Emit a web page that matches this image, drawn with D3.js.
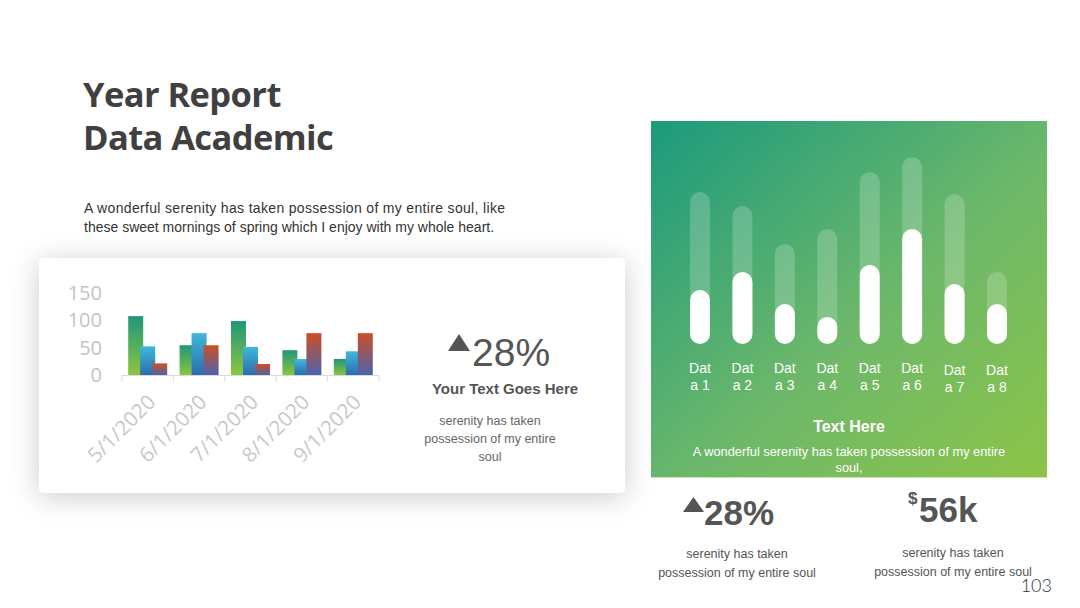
<!doctype html>
<html>
<head>
<meta charset="utf-8">
<style>
  body { margin: 0; background: #ffffff; }
  svg { display: block; }
  .lbl { font-family: "Liberation Sans", Arial, sans-serif; }
</style>
<script src="https://d3js.org/d3.v7.min.js"></script>
</head>
<body>
<svg width="1080" height="608"></svg>
<script>
// ---- data ----
var dates = ["5/1/2020", "6/1/2020", "7/1/2020", "8/1/2020", "9/1/2020"];
var seriesNames = ["s1", "s2", "s3"];
var series1 = [108, 55, 99, 46, 30];
var series2 = [53, 77, 52, 30, 44];
var series3 = [22, 55, 21, 77, 77];
var yTicks = [0, 50, 100, 150];

var pillLabels = ["Data 1", "Data 2", "Data 3", "Data 4", "Data 5", "Data 6", "Data 7", "Data 8"];
var pillTotal = [152, 138, 100, 115, 172, 187, 150, 72];
var pillValue = [54, 72, 40, 27, 79, 115, 60, 40];

var svg = d3.select("svg");
var defs = svg.append("defs");

// shadow for card
var f = defs.append("filter").attr("id", "shadow")
    .attr("x", "-20%").attr("y", "-40%").attr("width", "140%").attr("height", "180%");
f.append("feDropShadow").attr("dx", 0).attr("dy", 4).attr("stdDeviation", 14)
    .attr("flood-color", "#000").attr("flood-opacity", 0.2);

function vGrad(id, top, bottom) {
    var g = defs.append("linearGradient").attr("id", id)
        .attr("x1", 0).attr("y1", 0).attr("x2", 0).attr("y2", 1);
    g.append("stop").attr("offset", "0%").attr("stop-color", top);
    g.append("stop").attr("offset", "100%").attr("stop-color", bottom);
}
vGrad("g1", "#1f977a", "#8dc63f");
vGrad("g2", "#40b8da", "#2a6cae");
vGrad("g3", "#cc4f25", "#4b63ad");

var pg = defs.append("linearGradient").attr("id", "panel")
    .attr("x1", 0).attr("y1", 0).attr("x2", 1).attr("y2", 1);
pg.append("stop").attr("offset", "0%").attr("stop-color", "#1b9a7d");
pg.append("stop").attr("offset", "55%").attr("stop-color", "#6db86a");
pg.append("stop").attr("offset", "100%").attr("stop-color", "#8cc447");

// ---- title + intro ----
svg.append("text").attr("x", 83).attr("y", 107)
   .attr("font-family", "'Open Sans', sans-serif").attr("font-weight", 700)
   .attr("font-size", "34.5px").attr("fill", "#404040").attr("letter-spacing", "-0.6")
   .text("Year Report");
svg.append("text").attr("x", 83).attr("y", 150)
   .attr("font-family", "'Open Sans', sans-serif").attr("font-weight", 700)
   .attr("font-size", "34.5px").attr("fill", "#404040").attr("letter-spacing", "-0.6")
   .text("Data Academic");

svg.append("text").attr("class", "lbl").attr("x", 84).attr("y", 213)
   .attr("font-size", "14px").attr("fill", "#333")
   .attr("textLength", 421).attr("lengthAdjust", "spacing")
   .text("A wonderful serenity has taken possession of my entire soul, like");
svg.append("text").attr("class", "lbl").attr("x", 84).attr("y", 232)
   .attr("font-size", "14px").attr("fill", "#333")
   .text("these sweet mornings of spring which I enjoy with my whole heart.");

// ---- left card ----
svg.append("rect").attr("x", 39).attr("y", 258).attr("width", 586).attr("height", 235)
   .attr("rx", 5).attr("fill", "#fff").attr("filter", "url(#shadow)");

var x = d3.scaleBand().domain(dates).range([122, 379]);
var inner = d3.scalePoint().domain(seriesNames).range([-12, 12]);
var y = d3.scaleLinear().domain([0, 150]).range([375.5, 293]);
var barW = 15;

var rows = dates.map(function(d, i) {
    return { date: d, vals: [series1[i], series2[i], series3[i]] };
});

var gChart = svg.append("g");
rows.forEach(function(r) {
    gChart.selectAll(null)
        .data(r.vals)
        .enter().append("rect")
        .attr("x", function(v, j) { return x(r.date) + x.bandwidth() / 2 + inner(seriesNames[j]) - barW / 2; })
        .attr("y", function(v) { return y(v); })
        .attr("width", barW)
        .attr("height", function(v) { return y(0) - y(v); })
        .attr("fill", function(v, j) { return "url(#g" + (j + 1) + ")"; });
});

// x axis line + boundary ticks
var xAxis = svg.append("g").attr("transform", "translate(0," + y(0) + ")")
    .call(d3.axisBottom(x).tickSize(0).tickFormat(""));
xAxis.select(".domain").attr("stroke", "#d9d9d9").attr("d", "M122,0H379");
var bounds = dates.map(function(d) { return x(d); }).concat([x.range()[1]]);
xAxis.selectAll(".bnd").data(bounds).enter().append("line")
    .attr("x1", function(d) { return d; }).attr("x2", function(d) { return d; })
    .attr("y1", 0).attr("y2", 6).attr("stroke", "#d9d9d9");

xAxis.selectAll(".xl").data(dates).enter().append("text")
    .attr("font-family", "'Open Sans', sans-serif").attr("font-size", "20.5px")
    .attr("fill", "#c8c8c8").attr("text-anchor", "end")
    .attr("transform", function(d) { return "translate(" + (x(d) + x.bandwidth() / 2 + 9) + ",28) rotate(-45)"; })
    .text(function(d) { return d; });

var yAxis = svg.append("g").attr("transform", "translate(102,0)")
    .call(d3.axisLeft(y).tickValues(yTicks).tickSize(0).tickPadding(0));
yAxis.select(".domain").remove();
yAxis.selectAll("text").attr("font-family", "'Open Sans', sans-serif")
    .attr("font-size", "20px").attr("fill", "#c4c4c4");

// left card stats
svg.append("path").attr("d", "M448,351L459,334L470,351Z").attr("fill", "#555");
svg.append("text").attr("class", "lbl").attr("x", 472).attr("y", 366)
   .attr("font-size", "39px").attr("fill", "#555").text("28%");
svg.append("text").attr("class", "lbl").attr("x", 505).attr("y", 394)
   .attr("text-anchor", "middle").attr("font-size", "15px").attr("font-weight", 700)
   .attr("fill", "#555").text("Your Text Goes Here");
["serenity has taken", "possession of my entire", "soul"].forEach(function(t, i) {
    svg.append("text").attr("class", "lbl").attr("x", 490).attr("y", 425 + i * 18)
       .attr("text-anchor", "middle").attr("font-size", "12.5px").attr("fill", "#666").text(t);
});

// ---- right panel ----
svg.append("rect").attr("x", 651).attr("y", 121).attr("width", 396).attr("height", 357)
   .attr("fill", "url(#panel)");
svg.append("line").attr("x1", 651).attr("x2", 1047).attr("y1", 477.5).attr("y2", 477.5)
   .attr("stroke", "#c9e6b0").attr("stroke-width", 1);

var px = d3.scalePoint().domain(pillLabels).range([700, 997]);
var py = d3.scaleLinear().domain([0, 200]).range([344, 144]);
var pillW = 20;

svg.append("g").selectAll("rect").data(pillLabels).enter().append("rect")
    .attr("x", function(d) { return px(d) - pillW / 2; })
    .attr("y", function(d, i) { return py(pillTotal[i]); })
    .attr("width", pillW)
    .attr("height", function(d, i) { return py(0) - py(pillTotal[i]); })
    .attr("rx", pillW / 2)
    .attr("fill", "#fff").attr("fill-opacity", 0.2);

svg.append("g").selectAll("rect").data(pillLabels).enter().append("rect")
    .attr("x", function(d) { return px(d) - pillW / 2; })
    .attr("y", function(d, i) { return py(pillValue[i]); })
    .attr("width", pillW)
    .attr("height", function(d, i) { return py(0) - py(pillValue[i]); })
    .attr("rx", pillW / 2)
    .attr("fill", "#fff");

var pl = svg.append("g").selectAll("text").data(pillLabels).enter().append("text")
    .attr("class", "lbl").attr("text-anchor", "middle").attr("font-size", "14px")
    .attr("fill", "#fff")
    .attr("transform", function(d, i) { return "translate(" + px(d) + "," + (i >= 6 ? 374.5 : 373) + ")"; });
pl.append("tspan").attr("x", 0).attr("y", 0).text(function(d) { return d.slice(0, 3); });
pl.append("tspan").attr("x", 0).attr("y", 17).text(function(d) { return d.slice(3); });

svg.append("text").attr("class", "lbl").attr("x", 849).attr("y", 432)
   .attr("text-anchor", "middle").attr("font-size", "16px").attr("font-weight", 700)
   .attr("fill", "#fff").text("Text Here");
svg.append("text").attr("class", "lbl").attr("x", 849).attr("y", 456)
   .attr("text-anchor", "middle").attr("font-size", "12.8px").attr("fill", "#fff")
   .text("A wonderful serenity has taken possession of my entire");
svg.append("text").attr("class", "lbl").attr("x", 849).attr("y", 472)
   .attr("text-anchor", "middle").attr("font-size", "12.8px").attr("fill", "#fff")
   .text("soul,");

// ---- bottom stats ----
svg.append("path").attr("d", "M683,512L693.5,497L704,512Z").attr("fill", "#555");
svg.append("text").attr("class", "lbl").attr("x", 704).attr("y", 525)
   .attr("font-size", "35px").attr("font-weight", 700).attr("fill", "#555").text("28%");
svg.append("text").attr("class", "lbl").attr("x", 908).attr("y", 504)
   .attr("font-size", "17px").attr("font-weight", 700).attr("fill", "#555").text("$");
svg.append("text").attr("class", "lbl").attr("x", 919).attr("y", 522)
   .attr("font-size", "35px").attr("font-weight", 700).attr("fill", "#555").text("56k");

[[737, "serenity has taken"], [737, "possession of my entire soul"]].forEach(function(t, i) {
    svg.append("text").attr("class", "lbl").attr("x", t[0]).attr("y", 558 + i * 19)
       .attr("text-anchor", "middle").attr("font-size", "12.5px").attr("fill", "#555").text(t[1]);
});
[[953, "serenity has taken"], [953, "possession of my entire soul"]].forEach(function(t, i) {
    svg.append("text").attr("class", "lbl").attr("x", t[0]).attr("y", 557 + i * 19)
       .attr("text-anchor", "middle").attr("font-size", "12.5px").attr("fill", "#555").text(t[1]);
});

svg.append("text").attr("x", 1052).attr("y", 592).attr("text-anchor", "end")
   .attr("font-family", "Lato, sans-serif").attr("font-weight", 300)
   .attr("font-size", "18px").attr("fill", "#333").text("103");
</script>
</body>
</html>
